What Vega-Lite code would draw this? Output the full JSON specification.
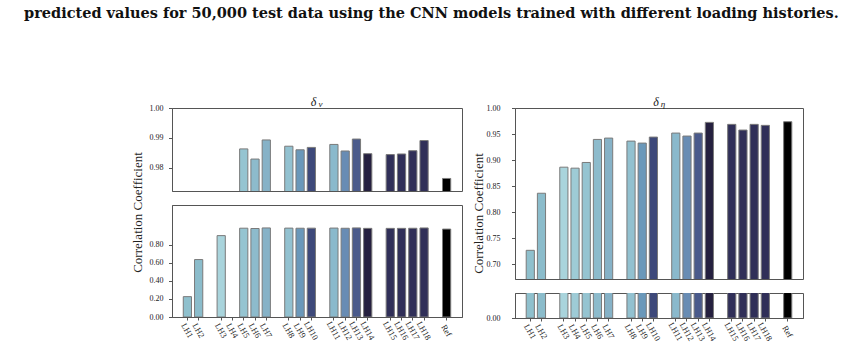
{
  "$schema": "https://vega.github.io/schema/vega-lite/v6.json",
  "background": "white",
  "padding": {"left": 24, "top": 6, "right": 5, "bottom": 5},
  "title": {
    "text": "predicted values for 50,000 test data using the CNN models trained with different loading histories.",
    "anchor": "start",
    "frame": "group",
    "dx": -148,
    "offset": 73,
    "font": "DejaVu Serif",
    "fontStyle": "normal",
    "fontSize": 14.5,
    "fontWeight": "bold",
    "color": "#111111"
  },
  "spacing": 8,
  "config": {
    "view": {"stroke": "#555555", "strokeWidth": 1},
    "axis": {
      "grid": false,
      "domainColor": "#555555",
      "tickColor": "#555555",
      "tickSize": 3.5,
      "labelFont": "Liberation Serif",
      "labelFontSize": 8,
      "labelColor": "#222222",
      "titleFont": "Liberation Serif",
      "titleFontSize": 13,
      "titleFontWeight": "normal",
      "titleColor": "#222222"
    }
  },
  "datasets": {
    "nu": [
      {"lh": "LH1", "r": 0.226},
      {"lh": "LH2", "r": 0.638},
      {"lh": "LH3", "r": 0.904},
      {"lh": "LH4", "r": null},
      {"lh": "LH5", "r": 0.9863},
      {"lh": "LH6", "r": 0.9829},
      {"lh": "LH7", "r": 0.9893},
      {"lh": "LH8", "r": 0.9872},
      {"lh": "LH9", "r": 0.986},
      {"lh": "LH10", "r": 0.9868},
      {"lh": "LH11", "r": 0.9878},
      {"lh": "LH12", "r": 0.9856},
      {"lh": "LH13", "r": 0.9896},
      {"lh": "LH14", "r": 0.9847},
      {"lh": "LH15", "r": 0.9844},
      {"lh": "LH16", "r": 0.9846},
      {"lh": "LH17", "r": 0.9857},
      {"lh": "LH18", "r": 0.9891},
      {"lh": "Ref", "r": 0.9764}
    ],
    "eta": [
      {"lh": "LH1", "r": 0.727},
      {"lh": "LH2", "r": 0.8365},
      {"lh": "LH3", "r": 0.8865},
      {"lh": "LH4", "r": 0.8846},
      {"lh": "LH5", "r": 0.8955},
      {"lh": "LH6", "r": 0.9397},
      {"lh": "LH7", "r": 0.9423},
      {"lh": "LH8", "r": 0.9365},
      {"lh": "LH9", "r": 0.9327},
      {"lh": "LH10", "r": 0.9442},
      {"lh": "LH11", "r": 0.9519},
      {"lh": "LH12", "r": 0.9462},
      {"lh": "LH13", "r": 0.9519},
      {"lh": "LH14", "r": 0.9724},
      {"lh": "LH15", "r": 0.9686},
      {"lh": "LH16", "r": 0.9577},
      {"lh": "LH17", "r": 0.9686},
      {"lh": "LH18", "r": 0.9667},
      {"lh": "Ref", "r": 0.9737}
    ]
  },
  "hconcat": [
    {
      "bounds": "flush",
      "spacing": 14,
      "vconcat": [
        {
          "width": 290,
          "height": 83,
          "data": {"name": "nu"},
          "mark": {"type": "bar", "clip": true, "stroke": "#7a7a7a", "strokeWidth": 1},
          "encoding": {
            "x": {
              "field": "lh", "type": "nominal",
              "scale": {
                "domain": ["LH1", "LH2", "gap1", "LH3", "LH4", "LH5", "LH6", "LH7", "gap2", "LH8", "LH9", "LH10", "gap3", "LH11", "LH12", "LH13", "LH14", "gap4", "LH15", "LH16", "LH17", "LH18", "gap5", "Ref"],
                "paddingInner": 0.27, "paddingOuter": 1.3
              },
              "axis": {
                "orient": "top", "values": [], "labels": false, "ticks": false, "domain": false,
                "title": "δ", "titleX": 141, "titleY": -3, "titleAlign": "center", "titleBaseline": "alphabetic",
                "titleFontStyle": "italic", "titleFontSize": 12
              }
            },
            "y": {
              "field": "r", "type": "quantitative",
              "scale": {"domain": [0.9722, 1.0], "zero": false, "nice": false},
              "axis": {
                "values": [0.98, 0.99, 1.0], "format": ".2f", "labelPadding": 5.5,
                "title": "ν", "titleAngle": 0, "titleX": 148, "titleY": -1.5, "titleAlign": "center", "titleBaseline": "alphabetic",
                "titleFontStyle": "italic", "titleFontSize": 9
              }
            },
            "color": {
              "field": "lh", "type": "nominal", "legend": null,
              "scale": {
                "domain": ["LH1", "LH2", "LH3", "LH4", "LH5", "LH6", "LH7", "LH8", "LH9", "LH10", "LH11", "LH12", "LH13", "LH14", "LH15", "LH16", "LH17", "LH18", "Ref"],
                "range": ["#8fc0cd", "#8bbccb", "#a9d4dc", "#9ecbd6", "#95c4d1", "#8dbbcc", "#86b2c7", "#92c1d0", "#6a98ba", "#3e497a", "#8ab9cc", "#688cb4", "#4a5a8b", "#25203f", "#302f58", "#302f58", "#302f58", "#302f58", "#000000"]
              }
            }
          }
        },
        {
          "width": 290,
          "height": 112,
          "data": {"name": "nu"},
          "mark": {"type": "bar", "clip": true, "stroke": "#7a7a7a", "strokeWidth": 1},
          "encoding": {
            "x": {
              "field": "lh", "type": "nominal",
              "scale": {
                "domain": ["LH1", "LH2", "gap1", "LH3", "LH4", "LH5", "LH6", "LH7", "gap2", "LH8", "LH9", "LH10", "gap3", "LH11", "LH12", "LH13", "LH14", "gap4", "LH15", "LH16", "LH17", "LH18", "gap5", "Ref"],
                "paddingInner": 0.27, "paddingOuter": 1.3
              },
              "axis": {
                "values": ["LH1", "LH2", "LH3", "LH4", "LH5", "LH6", "LH7", "LH8", "LH9", "LH10", "LH11", "LH12", "LH13", "LH14", "LH15", "LH16", "LH17", "LH18", "Ref"],
                "title": null, "labelAngle": 60, "labelAlign": "center", "labelBaseline": "middle",
                "labelPadding": 10, "tickSize": 3, "labelFontSize": 8.5
              }
            },
            "y": {
              "field": "r", "type": "quantitative",
              "scale": {"domain": [0, 1.244], "nice": false},
              "axis": {"values": [0, 0.2, 0.4, 0.6, 0.8], "format": ".2f", "title": "Correlation Coefficient", "titleY": 7, "labelPadding": 5.5, "titlePadding": 5}
            },
            "color": {
              "field": "lh", "type": "nominal", "legend": null,
              "scale": {
                "domain": ["LH1", "LH2", "LH3", "LH4", "LH5", "LH6", "LH7", "LH8", "LH9", "LH10", "LH11", "LH12", "LH13", "LH14", "LH15", "LH16", "LH17", "LH18", "Ref"],
                "range": ["#8fc0cd", "#8bbccb", "#a9d4dc", "#9ecbd6", "#95c4d1", "#8dbbcc", "#86b2c7", "#92c1d0", "#6a98ba", "#3e497a", "#8ab9cc", "#688cb4", "#4a5a8b", "#25203f", "#302f58", "#302f58", "#302f58", "#302f58", "#000000"]
              }
            }
          }
        }
      ]
    },
    {
      "bounds": "flush",
      "spacing": 14,
      "vconcat": [
        {
          "width": 288,
          "height": 171,
          "data": {"name": "eta"},
          "mark": {"type": "bar", "clip": true, "stroke": "#7a7a7a", "strokeWidth": 1},
          "encoding": {
            "x": {
              "field": "lh", "type": "nominal",
              "scale": {
                "domain": ["LH1", "LH2", "gap1", "LH3", "LH4", "LH5", "LH6", "LH7", "gap2", "LH8", "LH9", "LH10", "gap3", "LH11", "LH12", "LH13", "LH14", "gap4", "LH15", "LH16", "LH17", "LH18", "gap5", "Ref"],
                "paddingInner": 0.27, "paddingOuter": 1.3
              },
              "axis": {
                "orient": "top", "values": [], "labels": false, "ticks": false, "domain": false,
                "title": "δ", "titleX": 140.5, "titleY": -3, "titleAlign": "center", "titleBaseline": "alphabetic",
                "titleFontStyle": "italic", "titleFontSize": 12
              }
            },
            "y": {
              "field": "r", "type": "quantitative",
              "scale": {"domain": [0.672, 1.0], "zero": false, "nice": false},
              "axis": {
                "values": [0.7, 0.75, 0.8, 0.85, 0.9, 0.95, 1.0], "format": ".2f", "labelPadding": 11.5,
                "title": "η", "titleAngle": 0, "titleX": 147.5, "titleY": -1.5, "titleAlign": "center", "titleBaseline": "alphabetic",
                "titleFontStyle": "italic", "titleFontSize": 9
              }
            },
            "color": {
              "field": "lh", "type": "nominal", "legend": null,
              "scale": {
                "domain": ["LH1", "LH2", "LH3", "LH4", "LH5", "LH6", "LH7", "LH8", "LH9", "LH10", "LH11", "LH12", "LH13", "LH14", "LH15", "LH16", "LH17", "LH18", "Ref"],
                "range": ["#8fc0cd", "#8bbccb", "#a9d4dc", "#9ecbd6", "#95c4d1", "#8dbbcc", "#86b2c7", "#92c1d0", "#6a98ba", "#3e497a", "#8ab9cc", "#688cb4", "#4a5a8b", "#25203f", "#302f58", "#302f58", "#302f58", "#302f58", "#000000"]
              }
            }
          }
        },
        {
          "width": 288,
          "height": 25,
          "data": {"name": "eta"},
          "mark": {"type": "bar", "clip": true, "stroke": "#7a7a7a", "strokeWidth": 1},
          "encoding": {
            "x": {
              "field": "lh", "type": "nominal",
              "scale": {
                "domain": ["LH1", "LH2", "gap1", "LH3", "LH4", "LH5", "LH6", "LH7", "gap2", "LH8", "LH9", "LH10", "gap3", "LH11", "LH12", "LH13", "LH14", "gap4", "LH15", "LH16", "LH17", "LH18", "gap5", "Ref"],
                "paddingInner": 0.27, "paddingOuter": 1.3
              },
              "axis": {
                "values": ["LH1", "LH2", "LH3", "LH4", "LH5", "LH6", "LH7", "LH8", "LH9", "LH10", "LH11", "LH12", "LH13", "LH14", "LH15", "LH16", "LH17", "LH18", "Ref"],
                "title": null, "labelAngle": 60, "labelAlign": "center", "labelBaseline": "middle",
                "labelPadding": 10, "tickSize": 3, "labelFontSize": 8.5
              }
            },
            "y": {
              "field": "r", "type": "quantitative",
              "scale": {"domain": [0, 0.05], "nice": false},
              "axis": {"values": [0], "format": ".2f", "labelPadding": 11.5, "title": "Correlation Coefficient", "titleY": -80, "titlePadding": 1}
            },
            "color": {
              "field": "lh", "type": "nominal", "legend": null,
              "scale": {
                "domain": ["LH1", "LH2", "LH3", "LH4", "LH5", "LH6", "LH7", "LH8", "LH9", "LH10", "LH11", "LH12", "LH13", "LH14", "LH15", "LH16", "LH17", "LH18", "Ref"],
                "range": ["#8fc0cd", "#8bbccb", "#a9d4dc", "#9ecbd6", "#95c4d1", "#8dbbcc", "#86b2c7", "#92c1d0", "#6a98ba", "#3e497a", "#8ab9cc", "#688cb4", "#4a5a8b", "#25203f", "#302f58", "#302f58", "#302f58", "#302f58", "#000000"]
              }
            }
          }
        }
      ]
    }
  ]
}
